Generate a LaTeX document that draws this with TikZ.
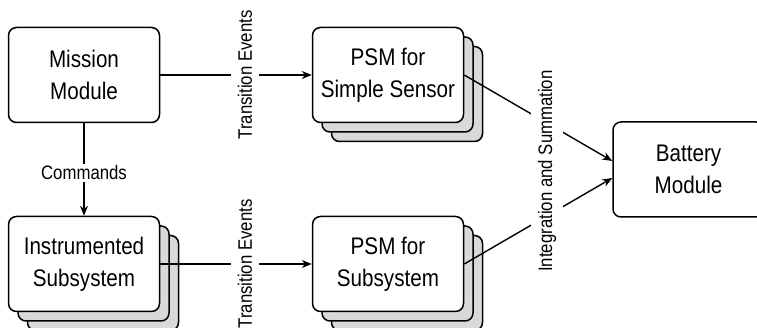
\documentclass[tikz,border=0pt]{standalone}
\usepackage{fontspec}
\newfontfamily\diagfont{Liberation Sans}[FakeStretch=0.86]
\usetikzlibrary{arrows.meta,shadows}

\tikzset{
  module/.style={draw, line width=1.5pt, rounded corners=8pt, fill=white,
    minimum width=151pt, minimum height=95pt, align=center, inner sep=0pt,
    font=\diagfont\fontsize{24}{31.7}\selectfont},
  stacked/.style={module, double copy shadow={shadow xshift=9.5pt,
    shadow yshift=-9.5pt, fill=stackgray, draw, line width=1.5pt}},
  conn/.style={line width=1.4pt},
  arrowconn/.style={conn, -{Stealth[length=10pt,width=8pt]}},
  tag/.style={fill=white, font=\diagfont\fontsize{19.5}{22}\selectfont},
}
\definecolor{stackgray}{RGB}{217,217,217}

\begin{document}
\begin{tikzpicture}[x=1pt, y=-1pt]
  \clip (0,0) rectangle (757,328);

  % modules
  \node[module]  (mission) at (84,75)    {Mission\\Module};
  \node[stacked] (instr)   at (84,264)   {Instrumented\\Subsystem};
  \node[stacked] (psmA)    at (388,75)   {PSM for\\Simple Sensor};
  \node[stacked] (psmB)    at (388,264)  {PSM for\\Subsystem};
  \node[module]  (battery) at (688.5,169.5) {Battery\\Module};

  % labels that interrupt their connectors
  \node[tag, rotate=90, inner sep=7pt] (evA) at (245,75)  {Transition Events};
  \node[tag, rotate=90, inner sep=7pt] (evB) at (245,264) {Transition Events};
  \node[tag, inner sep=2pt] (cmd) at (84,173) {Commands};

  % connectors
  \draw[conn] (mission) -- (evA);
  \draw[arrowconn] (evA) -- (psmA);
  \draw[conn] (instr.east |- evB) -- (evB);
  \draw[arrowconn] (evB) -- (psmB);
  \draw[conn] (mission) -- (cmd);
  \draw[arrowconn] (cmd) -- (instr);

  \draw[arrowconn] (psmA.east) -- ([yshift=8.5pt]battery.west);
  \draw[arrowconn] (psmB.east) -- ([yshift=-8.5pt]battery.west);
  \node[tag, rotate=90, inner sep=6.5pt] (integ) at (547,171) {Integration and Summation};
\end{tikzpicture}
\end{document}
